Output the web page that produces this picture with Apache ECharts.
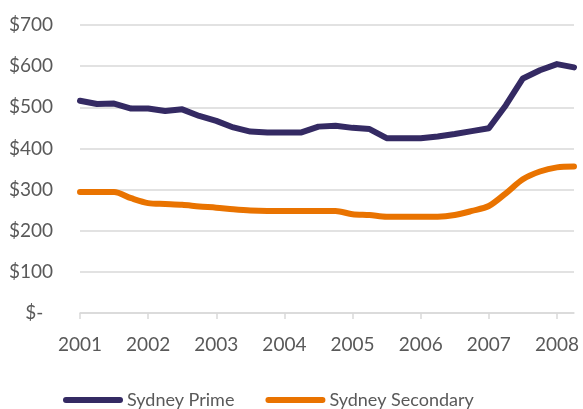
<!DOCTYPE html>
<html>
<head>
<meta charset="utf-8">
<script src="https://cdn.jsdelivr.net/npm/echarts@6/dist/echarts.min.js"></script>
<style>
  html, body { margin: 0; padding: 0; background: #fff; }
  #chart { width: 583px; height: 409px; }
</style>
</head>
<body>
<div id="chart"></div>
<script>
// quarterly, 2001 Q1 .. 2008 Q2
const quarters = []
for (let y = 2001; y <= 2008; y++) {
  for (let q = 1; q <= 4; q++) {
    if (y === 2008 && q > 2) break
    quarters.push(y + ' Q' + q)
  }
}

const sydneyPrime = [
  516, 508, 509, 497, 497, 491, 495, 479, 467, 451,
  441, 439, 439, 439, 453, 455, 450, 447, 425, 425,
  425, 429, 435, 442, 449, 505, 570, 590, 605, 597,
]

const sydneySecondary = [
  294, 294, 294, 279, 267, 265, 263, 259, 256, 252,
  249, 248, 248, 248, 248, 248, 240, 238, 234, 234,
  234, 234, 238, 248, 260, 291, 325, 344, 354, 356,
]

const seriesNames = ['Sydney Prime', 'Sydney Secondary']
const seriesColors = ['#342a63', '#e97300']

const textColor = '#595959'
const gridColor = '#d9d9d9'
const fontFamily = 'Lato, "Open Sans", sans-serif'

const chart = echarts.init(document.getElementById('chart'))

const option = {
  animation: false,
  grid: {
    left: 80,
    right: 9,
    top: 25,
    bottom: 96,
  },
  legend: {
    left: 58,
    top: 386,
    itemWidth: 60,
    itemHeight: 7,
    itemGap: 31,
    icon: 'path://M3,0 L57,0 A3,3 0 0 1 57,6 L3,6 A3,3 0 0 1 3,0 Z',
    textStyle: {
      color: textColor,
      fontSize: 18,
      fontFamily: fontFamily,
      padding: [0, 0, 0, -1],
    },
    data: seriesNames,
  },
  xAxis: {
    type: 'category',
    boundaryGap: false,
    data: quarters,
    axisLine: { lineStyle: { color: gridColor, width: 1.5 } },
    axisTick: {
      interval: 3,
      length: 6,
      lineStyle: { color: gridColor, width: 1.5 },
    },
    axisLabel: {
      interval: 3,
      margin: 22,
      color: textColor,
      fontSize: 19,
      fontFamily: fontFamily,
      formatter: (v) => v.slice(0, 4),
    },
  },
  yAxis: {
    type: 'value',
    min: 0,
    max: 700,
    interval: 100,
    axisLine: { show: false },
    axisTick: { show: false },
    splitLine: { lineStyle: { color: gridColor, width: 1.5 } },
    axisLabel: {
      margin: 27,
      color: textColor,
      fontSize: 19,
      fontFamily: fontFamily,
      formatter: (v) => (v === 0 ? '$-  ' : '$' + v),
    },
  },
  series: [
    {
      name: seriesNames[0],
      type: 'line',
      data: sydneyPrime,
      symbol: 'none',
      color: seriesColors[0],
      lineStyle: { width: 6, cap: 'round', join: 'round' },
    },
    {
      name: seriesNames[1],
      type: 'line',
      data: sydneySecondary,
      symbol: 'none',
      smooth: 0.3,
      color: seriesColors[1],
      lineStyle: { width: 6, cap: 'round', join: 'round' },
    },
  ],
}

chart.setOption(option)
</script>
</body>
</html>
